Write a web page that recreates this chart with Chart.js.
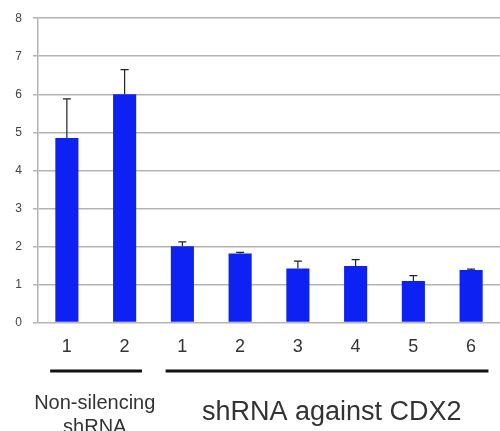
<!DOCTYPE html>
<html>
<head>
<meta charset="utf-8">
<script src="https://cdn.jsdelivr.net/npm/chart.js@4"></script>
<style>
  html, body { margin: 0; padding: 0; background: #fff; }
  #wrap { width: 500px; height: 431px; }
</style>
</head>
<body>
<div id="wrap"><canvas id="chart"></canvas></div>
<script>
// category labels under each bar
const labels = ['1', '2', '1', '2', '3', '4', '5', '6'];
// bar heights
const values = [4.85, 6.0, 2.0, 1.81, 1.42, 1.48, 1.09, 1.375];
// upper error (bar value + error)
const errTops = [5.88, 6.65, 2.12, 1.84, 1.61, 1.65, 1.23, 1.40];
const yTicks = [0, 1, 2, 3, 4, 5, 6, 7, 8];

// groups under the axis: first and last bar index of each
const groups = [
  { from: 0, to: 1, lines: ['Non-silencing', 'shRNA'] },
  { from: 2, to: 7, lines: ['shRNA against CDX2'] }
];

// draws the upward error whiskers
const errorBars = {
  id: 'errorBars',
  afterDatasetsDraw(chart) {
    const ctx = chart.ctx;
    const x = chart.scales.x, y = chart.scales.y;
    ctx.save();
    ctx.strokeStyle = '#222';
    ctx.lineWidth = 1.2;
    errTops.forEach((top, i) => {
      const px = x.getPixelForValue(i);
      const y0 = y.getPixelForValue(values[i]);
      const y1 = y.getPixelForValue(top);
      ctx.beginPath();
      ctx.moveTo(px, y0);
      ctx.lineTo(px, y1);
      ctx.moveTo(px - 4, y1);
      ctx.lineTo(px + 4, y1);
      ctx.stroke();
    });
    ctx.restore();
  }
};

// draws the group brackets and their labels
const groupLabels = {
  id: 'groupLabels',
  afterDraw(chart) {
    const ctx = chart.ctx;
    const x = chart.scales.x;
    const half = (x.getPixelForValue(1) - x.getPixelForValue(0)) / 2;
    const font = '"Liberation Sans", Arial, sans-serif';
    ctx.save();
    groups.forEach(g => {
      const left = x.getPixelForValue(g.from) - half * 0.58;
      const right = x.getPixelForValue(g.to) + half * 0.6;
      ctx.strokeStyle = '#111';
      ctx.lineWidth = 3;
      ctx.beginPath();
      ctx.moveTo(left, 371);
      ctx.lineTo(right, 371);
      ctx.stroke();
      ctx.fillStyle = '#333';
      ctx.textAlign = 'center';
      ctx.textBaseline = 'middle';
      const cx = (x.getPixelForValue(g.from) + x.getPixelForValue(g.to)) / 2;
      if (g.lines.length === 1) {
        ctx.font = '27px ' + font;
        ctx.fillText(g.lines[0], cx + 5, 413);
      } else {
        ctx.font = '20px ' + font;
        ctx.fillText(g.lines[0], cx - 1, 403);
        ctx.fillText(g.lines[1], cx - 1, 427);
      }
    });
    ctx.restore();
  }
};

new Chart(document.getElementById('chart'), {
  type: 'bar',
  data: {
    labels,
    datasets: [{
      data: values,
      backgroundColor: '#0d22f2',
      barPercentage: 0.4,
      categoryPercentage: 1.0
    }]
  },
  options: {
    responsive: true,
    maintainAspectRatio: false,
    animation: false,
    layout: { padding: { top: 8, right: 0, bottom: 67, left: 0 } },
    plugins: { legend: { display: false }, tooltip: { enabled: false } },
    scales: {
      x: {
        grid: { display: false },
        border: { display: false },
        ticks: {
          color: '#333',
          font: { size: 18, family: '"Liberation Sans", Arial, sans-serif' },
          padding: 6
        }
      },
      y: {
        min: 0,
        max: 8,
        afterBuildTicks(axis) { axis.ticks = yTicks.map(v => ({ value: v })); },
        afterFit(axis) { axis.width = 38; },
        grid: { color: '#b4b4b4', lineWidth: 1.5, tickLength: 5 },
        border: { color: '#b4b4b4', width: 1.5 },
        ticks: {
          color: '#444',
          font: { size: 12, family: '"Liberation Sans", Arial, sans-serif' },
          padding: 11
        }
      }
    }
  },
  plugins: [errorBars, groupLabels]
});
</script>
</body>
</html>
